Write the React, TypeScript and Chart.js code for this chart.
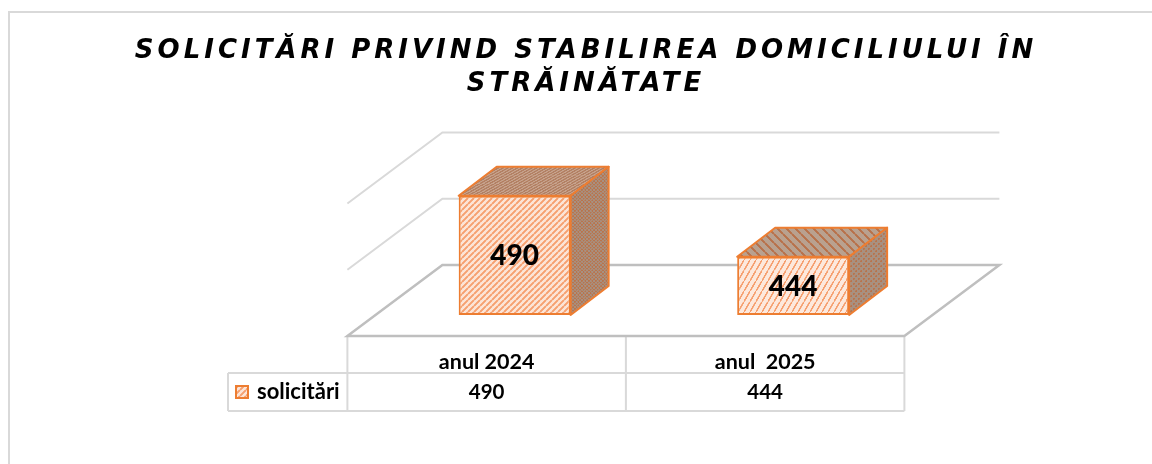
import React, { useEffect, useRef } from "react";
import { Chart, registerables } from "chart.js";

Chart.register(...registerables);

const titleLines = ["SOLICITĂRI PRIVIND STABILIREA DOMICILIULUI ÎN", "STRĂINĂTATE"];
const categories = ["anul 2024", "anul  2025"];
const seriesName = "solicitări";
const seriesValues = [490, 444];
const yTicks = [400, 450, 500];

const ORANGE = "#ED7D31";
const GRID = "#D9D9D9";
const FLOOR = "#BFBFBF";
const FONT = "Lato, sans-serif";

function hatch(ctx: CanvasRenderingContext2D, fg: string, bg: string, size: number, lw: number, matrix?: number[]) {
  const c = document.createElement("canvas");
  c.width = size * 4;
  c.height = size * 4;
  const g = c.getContext("2d")!;
  g.scale(4, 4);
  g.fillStyle = bg;
  g.fillRect(0, 0, size, size);
  g.strokeStyle = fg;
  g.lineWidth = lw;
  for (const o of [-size, 0, size]) {
    g.beginPath();
    g.moveTo(o, size);
    g.lineTo(o + size, 0);
    g.stroke();
  }
  const p = ctx.createPattern(c, "repeat")!;
  const [a, b, cc, d] = matrix ?? [1, 0, 0, 1];
  p.setTransform(new DOMMatrix([a / 4, b / 4, cc / 4, d / 4, 0, 0]));
  return p;
}

function dots(ctx: CanvasRenderingContext2D, fg: string, bg: string, size: number, r: number) {
  const c = document.createElement("canvas");
  c.width = size * 4;
  c.height = size * 4;
  const g = c.getContext("2d")!;
  g.scale(4, 4);
  g.fillStyle = bg;
  g.fillRect(0, 0, size, size);
  g.fillStyle = fg;
  for (const [x, y] of [[size / 4, size / 4], [(3 * size) / 4, (3 * size) / 4]]) {
    g.beginPath();
    g.arc(x, y, r, 0, Math.PI * 2);
    g.fill();
  }
  const p = ctx.createPattern(c, "repeat")!;
  p.setTransform(new DOMMatrix([0.25, 0, 0, 0.25, 0, 0]));
  return p;
}

export default function App() {
  const ref = useRef<HTMLCanvasElement>(null);

  useEffect(() => {
    const canvas = ref.current!;
    const ctx = canvas.getContext("2d")!;

    const fronts = [
      hatch(ctx, "#F6A070", "#FCE4D6", 6, 1.7),
      hatch(ctx, "#F6A070", "#FDE9DD", 8, 1.7, [0.75, 0, 0, 1.3]),
    ];
    const tops = [
      hatch(ctx, "#B27F62", "#C8A48E", 3, 1.2, [1.6, 0, 0, 0.9]),
      hatch(ctx, "#B8714A", "#B9A18F", 9, 1.8, [-1, 0, 0, 1]),
    ];
    const sides = [
      dots(ctx, "#B9744C", "#A89080", 3.5, 0.9),
      dots(ctx, "#B9744C", "#A89080", 5, 1),
    ];

    const DX = 38;
    const DY = 29;
    const FX = 95;
    const FY = 71;
    const SHIFT_X = 28;
    const SHIFT_Y = 21;

    const backdrop = {
      id: "backdrop",
      beforeDraw(chart: any) {
        const c = chart.ctx;
        c.save();
        c.strokeStyle = GRID;
        c.lineWidth = 2;
        c.beginPath();
        c.moveTo(9, 464);
        c.lineTo(9, 12);
        c.lineTo(1152, 12);
        c.stroke();
        c.restore();
      },
      beforeDatasetsDraw(chart: any) {
        const c = chart.ctx;
        const y = chart.scales.y;
        const { left, right } = chart.chartArea;
        const x0 = left - SHIFT_X;
        const x1 = right - SHIFT_X;
        c.save();
        c.lineJoin = "miter";
        const top = y.getPixelForValue(yTicks[0]) + SHIFT_Y;
        const mid = (x0 + x1) / 2;
        const r1 = top + 37;
        const r2 = top + 75;
        const legendLeft = 228;
        c.lineWidth = 2;
        c.strokeStyle = GRID;
        c.beginPath();
        c.moveTo(x0, top + 1);
        c.lineTo(x0, r2);
        c.moveTo(mid, top + 1);
        c.lineTo(mid, r2);
        c.moveTo(x1, top + 1);
        c.lineTo(x1, r2);
        c.moveTo(legendLeft, r1);
        c.lineTo(x1, r1);
        c.moveTo(legendLeft, r2);
        c.lineTo(x1, r2);
        c.moveTo(legendLeft, r1);
        c.lineTo(legendLeft, r2);
        c.stroke();

        for (const v of yTicks) {
          const py = y.getPixelForValue(v) + SHIFT_Y;
          const isFloor = v === yTicks[0];
          c.strokeStyle = isFloor ? FLOOR : GRID;
          c.lineWidth = isFloor ? 2.5 : 2;
          c.beginPath();
          c.moveTo(x0, py);
          c.lineTo(x0 + FX, py - FY);
          c.lineTo(x1 + FX, py - FY);
          if (isFloor) {
            c.lineTo(x1, py);
            c.lineTo(x0, py);
            c.closePath();
          }
          c.stroke();
        }

        c.fillStyle = ORANGE;
        c.fillRect(235, 385, 14, 14);
        c.fillStyle = fronts[0];
        c.fillRect(237, 387, 10, 10);
        c.fillStyle = "#000";
        c.font = `bold 22px ${FONT}`;
        c.textBaseline = "middle";
        c.textAlign = "left";
        c.fillText(seriesName, 257, (r1 + r2) / 2);
        c.font = `bold 20.5px ${FONT}`;
        c.textAlign = "center";
        seriesValues.forEach((v, i) => {
          const cx = chart.scales.x.getPixelForValue(i) - SHIFT_X;
          c.fillText(String(v), cx, (r1 + r2) / 2);
        });
        c.restore();
      },
      afterDatasetsDraw(chart: any) {
        const c = chart.ctx;
        const bars = chart.getDatasetMeta(0).data;
        c.save();
        bars.forEach((bar: any, i: number) => {
          const l = bar.x - bar.width / 2;
          const r = bar.x + bar.width / 2;
          const t = bar.y;
          const b = bar.base;
          c.strokeStyle = ORANGE;
          c.lineWidth = 2;
          c.lineJoin = "round";
          c.fillStyle = tops[i];
          c.beginPath();
          c.moveTo(l, t);
          c.lineTo(l + DX, t - DY);
          c.lineTo(r + DX, t - DY);
          c.lineTo(r, t);
          c.closePath();
          c.fill();
          c.stroke();
          c.fillStyle = sides[i];
          c.beginPath();
          c.moveTo(r, t);
          c.lineTo(r + DX, t - DY);
          c.lineTo(r + DX, b - DY);
          c.lineTo(r, b);
          c.closePath();
          c.fill();
          c.stroke();
          c.fillStyle = "#000";
          c.font = `900 28px ${FONT}`;
          c.textAlign = "center";
          c.textBaseline = "middle";
          c.fillText(String(seriesValues[i]), bar.x, (t + b) / 2 + 1);
        });
        c.restore();
      },
    };

    const chart = new Chart(canvas, {
      type: "bar",
      data: {
        labels: categories,
        datasets: [
          {
            label: seriesName,
            data: seriesValues,
            base: yTicks[0],
            backgroundColor: fronts as any,
            borderColor: ORANGE,
            borderWidth: 2,
            borderSkipped: false,
            categoryPercentage: 1,
            barPercentage: 0.402,
          },
        ],
      },
      options: {
        responsive: false,
        animation: false,
        events: [],
        clip: false,
        layout: { padding: { left: 375.4, right: 219.6, top: 0, bottom: 0 } },
        plugins: {
          legend: { display: false },
          tooltip: { enabled: false },
          title: {
            display: true,
            text: titleLines,
            color: "#000",
            font: { family: "'DejaVu Sans'", size: 26, weight: "bold", style: "italic", lineHeight: 1.27 },
            padding: { top: 34.5, bottom: 81.9 },
          },
        },
        scales: {
          x: {
            grid: { display: false },
            border: { display: false },
            afterFit(s: any) {
              s.height = 149;
            },
            ticks: {
              color: "#000",
              font: { family: FONT, size: 21.5, weight: "bold" },
              padding: 26,
              labelOffset: -28,
              autoSkip: false,
              maxRotation: 0,
            },
          },
          y: {
            display: false,
            min: yTicks[0],
            max: yTicks[yTicks.length - 1],
            ticks: { stepSize: 50 },
          },
        },
      } as any,
      plugins: [backdrop],
    });

    const tb: any = (chart as any).titleBlock;
    if (tb) {
      const orig = tb.draw.bind(tb);
      tb.draw = () => {
        const c = chart.ctx as any;
        c.save();
        c.letterSpacing = "4px";
        tb.left = 0;
        tb.right = 1172;
        orig();
        c.restore();
      };
      chart.draw();
    }

    return () => chart.destroy();
  }, []);

  return (
    <div style={{ position: "fixed", left: 0, top: 0, width: 1152, height: 464, background: "#fff" }}>
      <canvas ref={ref} width={1152} height={464} style={{ display: "block" }} />
    </div>
  );
}
